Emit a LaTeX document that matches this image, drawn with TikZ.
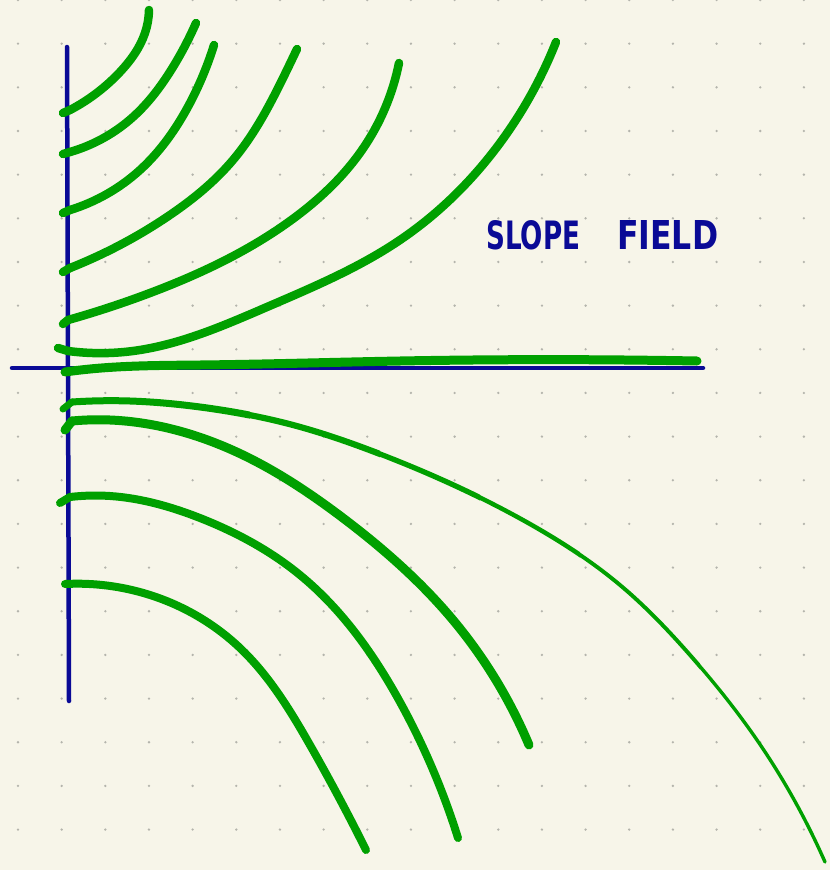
\documentclass[tikz,border=0pt]{standalone}
\usepackage{fontspec}
\usepackage{graphicx}
\usetikzlibrary{hobby}
\newfontfamily\markfont{DejaVu Sans}
\definecolor{bgc}{RGB}{247,245,233}
\definecolor{dotc}{RGB}{180,180,172}
\definecolor{navy}{RGB}{10,10,150}
\definecolor{grn}{RGB}{0,160,0}
\tikzset{
  axisline/.style={draw=navy, line width=4.5, line cap=round},
  curve/.style={draw=grn, line width=8.5, line cap=round, line join=round, use Hobby shortcut},
  hook/.style={draw=grn, line width=8.5, line cap=round},
  label/.style={text=navy, anchor=south west, inner sep=0pt}
}
\begin{document}
\begin{tikzpicture}[x=1pt,y=-1pt]
\useasboundingbox (0,0) rectangle (830,870);
\fill[bgc] (0,0) rectangle (830,870);
\foreach \i in {0,...,18}
  \foreach \j in {0,...,19}
    \fill[dotc] ({18+43.66*\i},{43.66*\j}) circle (1.3);
% axes
\coordinate (vtop) at (67,47);
\coordinate (vbot) at (69,701);
\coordinate (hl) at (12,368);
\coordinate (hr) at (703,368);
\draw[axisline] (vtop) -- (vbot);
\draw[axisline] (hl) -- (hr);
% upper curves
\draw[hook] (63,113) -- (70,110);
\draw[curve] (70,110) .. (120,72) .. (145,33) .. (149,10);
\draw[hook] (63,154) -- (70,152);
\draw[curve] (70,152) .. (133,117) .. (173,67) .. (196,23);
\draw[hook] (63,213) -- (70,210);
\draw[curve] (70,210) .. (140,170) .. (190,103) .. (214,45);
\draw[hook] (63,272) -- (70,268);
\draw[curve] (70,268) .. (167,217) .. (233,160) .. (285,74) .. (297,49);
\draw[hook] (63,324) -- (68,320);
\draw[curve] (68,320) .. (150,293) .. (290,221) .. (362,150) .. (399,63);
\draw[hook] (58,348) -- (68,351);
\draw[curve] (68,351) .. (133,351) .. (267,307) .. (400,240) .. (500,143) .. (556,42);
% near axis
\draw[curve, line width=9] (65,372) .. (90,369) .. (200,365) .. (400,361) .. (697,361);
% lower curves
\draw[hook, line width=7] (63,409) -- (72,402);
\begin{scope}\clip (0,380) rectangle (250,870);
\draw[curve, line width=7] (72,402) .. (130,401) .. (200,407) .. (293,425) .. (380,454) .. (460,488) .. (530,524) .. (620,585) .. (690,655) .. (750,730) .. (825,862);
\end{scope}
\begin{scope}\clip (250,380) rectangle (380,870);
\draw[curve, line width=6.2] (72,402) .. (130,401) .. (200,407) .. (293,425) .. (380,454) .. (460,488) .. (530,524) .. (620,585) .. (690,655) .. (750,730) .. (825,862);
\end{scope}
\begin{scope}\clip (380,380) rectangle (480,870);
\draw[curve, line width=5.3] (72,402) .. (130,401) .. (200,407) .. (293,425) .. (380,454) .. (460,488) .. (530,524) .. (620,585) .. (690,655) .. (750,730) .. (825,862);
\end{scope}
\begin{scope}\clip (480,380) rectangle (580,870);
\draw[curve, line width=4.5] (72,402) .. (130,401) .. (200,407) .. (293,425) .. (380,454) .. (460,488) .. (530,524) .. (620,585) .. (690,655) .. (750,730) .. (825,862);
\end{scope}
\begin{scope}\clip (580,380) rectangle (700,870);
\draw[curve, line width=3.9] (72,402) .. (130,401) .. (200,407) .. (293,425) .. (380,454) .. (460,488) .. (530,524) .. (620,585) .. (690,655) .. (750,730) .. (825,862);
\end{scope}
\begin{scope}\clip (700,380) rectangle (830,870);
\draw[curve, line width=3.4] (72,402) .. (130,401) .. (200,407) .. (293,425) .. (380,454) .. (460,488) .. (530,524) .. (620,585) .. (690,655) .. (750,730) .. (825,862);
\end{scope}
\draw[hook, line width=9] (65,430) -- (72,421);
\draw[curve, line width=9] (72,421) .. (110,420) .. (243,455) .. (343,518) .. (453,620) .. (529,745);
\draw[hook, line width=8] (60,503) -- (70,497);
\draw[curve, line width=8] (70,497) .. (110,496) .. (200,518) .. (300,575) .. (400,702) .. (458,838);
\draw[curve, line width=8] (65,584) .. (150,595) .. (240,648) .. (310,745) .. (366,850);
% label
\node[label] (t1) at (486,250) {\resizebox{94pt}{29pt}{\markfont\bfseries SLOPE}};
\node[label] (t2) at (617,250) {\resizebox{101pt}{29pt}{\markfont\bfseries FIELD}};
\end{tikzpicture}
\end{document}
